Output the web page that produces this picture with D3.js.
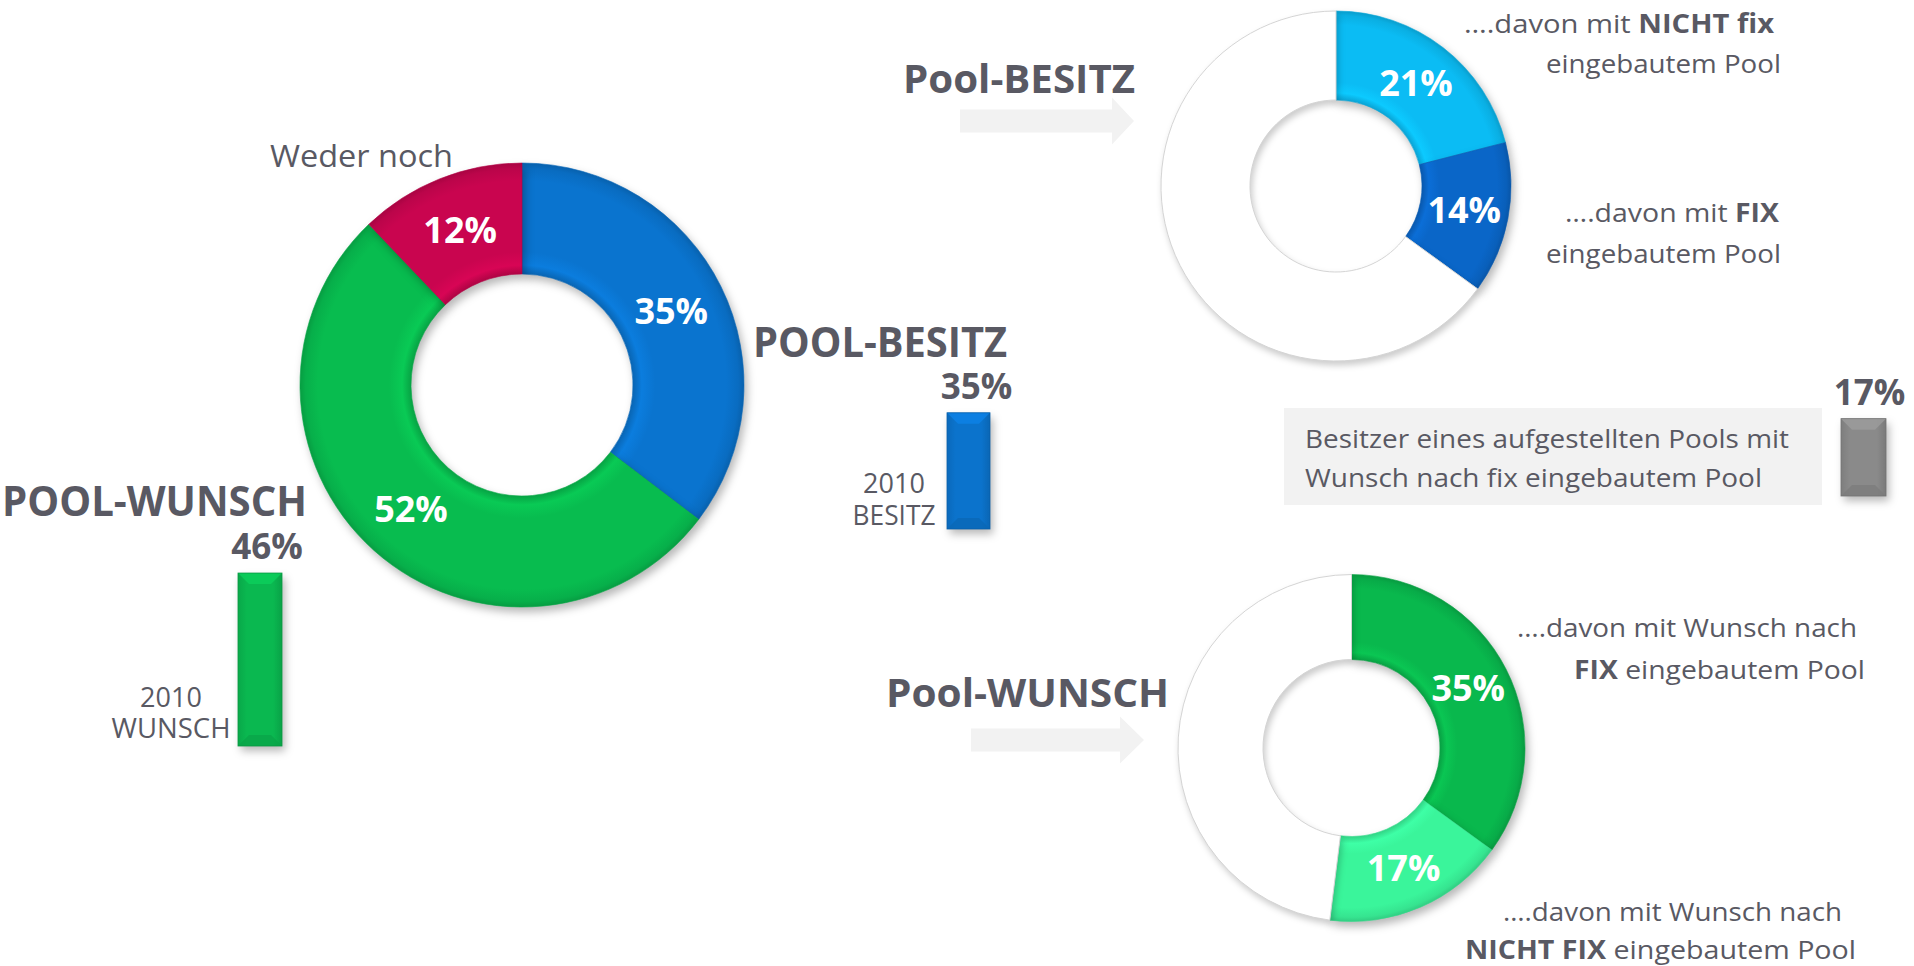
<!DOCTYPE html>
<html><head><meta charset="utf-8">
<script src="https://cdn.jsdelivr.net/npm/d3@7"></script>
<style>html,body{margin:0;padding:0;background:#fff;overflow:hidden}</style>
</head><body><svg id="chart" width="1914" height="966"></svg>
<script>
// ---------------- DATA ----------------
const mainCategories = ["POOL-BESITZ", "POOL-WUNSCH", "Weder noch"];
const mainValues = [35, 52, 12];
const mainLabels = ["35%", "52%", "12%"];

const besitzCategories = ["NICHT fix eingebaut", "FIX eingebaut", "kein Pool"];
const besitzValues = [21, 14, 65];
const besitzLabels = ["21%", "14%", ""];

const wunschCategories = ["Wunsch FIX", "Wunsch NICHT FIX", "kein Wunsch"];
const wunschValues = [35, 17, 48];
const wunschLabels = ["35%", "17%", ""];

const wunsch2010Category = ["2010 WUNSCH"];
const wunsch2010Value = [46];
const besitz2010Category = ["2010 BESITZ"];
const besitz2010Value = [35];
const upgradeCategory = ["Aufgestellt mit Wunsch fix"];
const upgradeValue = [17];

// ---------------- SETUP ----------------
const svg = d3.select("#chart");
const FONT = "'Open Sans', 'Noto Sans', sans-serif";
const TXT = "#595963";
const defs = svg.append("defs");

const sh = defs.append("filter").attr("id", "shadow").attr("color-interpolation-filters", "sRGB")
  .attr("x", "-20%").attr("y", "-20%").attr("width", "150%").attr("height", "150%");
sh.append("feDropShadow").attr("dx", 3).attr("dy", 5).attr("stdDeviation", 4)
  .attr("flood-color", "#000").attr("flood-opacity", 0.28);
const shw = defs.append("filter").attr("id", "shadowW").attr("color-interpolation-filters", "sRGB")
  .attr("x", "-20%").attr("y", "-20%").attr("width", "150%").attr("height", "150%");
shw.append("feDropShadow").attr("dx", 2).attr("dy", 4).attr("stdDeviation", 3)
  .attr("flood-color", "#000").attr("flood-opacity", 0.2);

function radialGrad(id, R, r, base) {
  const c = d3.color(base);
  const g = defs.append("radialGradient").attr("id", id)
    .attr("gradientUnits", "userSpaceOnUse").attr("cx", 0).attr("cy", 0).attr("r", R);
  const k = r / R;
  g.append("stop").attr("offset", k).attr("stop-color", c.darker(0.4));
  g.append("stop").attr("offset", k + 0.04).attr("stop-color", c.brighter(0.2));
  g.append("stop").attr("offset", k + 0.1).attr("stop-color", base);
  g.append("stop").attr("offset", 0.92).attr("stop-color", base);
  g.append("stop").attr("offset", 0.975).attr("stop-color", c.darker(0.2));
  g.append("stop").attr("offset", 1).attr("stop-color", c.darker(0.5));
  return "url(#" + id + ")";
}

function drawDonut(id, values, labels, colors, cx, cy, R, r) {
  const g = svg.append("g").attr("transform", `translate(${cx},${cy})`);
  const pie = d3.pie().sort(null).value(d => d);
  const arc = d3.arc().innerRadius(r).outerRadius(R);
  const arcs = pie(values);
  const isW = c => c === "#ffffff";
  const fills = colors.map((c, i) => isW(c) ? "#ffffff" : radialGrad(id + i, R, r, c));
  g.selectAll("path").data(arcs).join("path")
    .attr("d", arc)
    .attr("fill", (d, i) => fills[i])
    .attr("stroke", (d, i) => isW(colors[i]) ? "#d4d4d4" : d3.color(colors[i]).darker(0.3))
    .attr("stroke-width", (d, i) => isW(colors[i]) ? 1 : 0.6)
    .attr("filter", (d, i) => isW(colors[i]) ? "url(#shadowW)" : "url(#shadow)");
  g.selectAll("text").data(arcs).join("text")
    .attr("transform", d => `translate(${arc.centroid(d)})`)
    .attr("text-anchor", "middle").attr("dy", "0.36em")
    .attr("font-family", FONT).attr("font-weight", 700).attr("font-size", 36)
    .attr("fill", "#fff")
    .text((d, i) => labels[i]);
  return g;
}

function text(x, y, parts, opts) {
  const t = svg.append("text").attr("x", x).attr("y", y)
    .attr("font-family", FONT).attr("font-size", opts.size).attr("fill", TXT)
    .attr("text-anchor", opts.anchor || "start");
  if (opts.width) t.attr("textLength", opts.width).attr("lengthAdjust", "spacingAndGlyphs");
  parts.forEach(p => t.append("tspan").attr("font-weight", p[1] ? 700 : 400).text(p[0]));
  return t;
}

function drawBar(categories, values, color, x0, w, baseY, yMax, plotH, labelOffset) {
  const x = d3.scaleBand().domain(categories).range([x0, x0 + w]).padding(0);
  const y = d3.scaleLinear().domain([0, yMax]).range([baseY, baseY - plotH]);
  const c = d3.color(color);
  const gid = "bg" + categories[0].replace(/\W/g, "");
  const lg = defs.append("linearGradient").attr("id", gid).attr("x1", 0).attr("x2", 1).attr("y1", 0).attr("y2", 0);
  lg.append("stop").attr("offset", 0).attr("stop-color", c.darker(0.25));
  lg.append("stop").attr("offset", 0.2).attr("stop-color", color);
  lg.append("stop").attr("offset", 0.8).attr("stop-color", color);
  lg.append("stop").attr("offset", 1).attr("stop-color", c.darker(0.35));
  const g = svg.append("g");
  categories.forEach((cat, i) => {
    const bx = x(cat), bw = x.bandwidth(), top = y(values[i]), bot = y(0), b = 11;
    g.append("rect").attr("x", bx).attr("y", top).attr("width", bw).attr("height", bot - top)
      .attr("fill", `url(#${gid})`).attr("filter", "url(#shadow)");
    g.append("path").attr("d", `M${bx},${top}L${bx + bw},${top}L${bx + bw - b},${top + b}L${bx + b},${top + b}Z`)
      .attr("fill", c.brighter(0.35)).attr("opacity", 0.8);
    g.append("path").attr("d", `M${bx},${bot}L${bx + bw},${bot}L${bx + bw - b},${bot - b}L${bx + b},${bot - b}Z`)
      .attr("fill", c.darker(0.35)).attr("opacity", 0.7);
    g.append("rect").attr("x", bx).attr("y", top).attr("width", bw).attr("height", bot - top)
      .attr("fill", "none").attr("stroke", c.darker(0.5)).attr("stroke-width", 0.8);
    svg.append("text").attr("x", bx + bw / 2 + labelOffset).attr("y", top - 14)
      .attr("text-anchor", "middle").attr("font-family", FONT).attr("font-weight", 700)
      .attr("font-size", 35).attr("fill", TXT).text(values[i] + "%");
  });
}

function arrow(x0, x1, x2, yc, bodyH, headH) {
  svg.append("path")
    .attr("d", `M${x0},${yc - bodyH / 2}L${x1},${yc - bodyH / 2}L${x1},${yc - headH / 2}L${x2},${yc}` +
      `L${x1},${yc + headH / 2}L${x1},${yc + bodyH / 2}L${x0},${yc + bodyH / 2}Z`)
    .attr("fill", "#f2f2f2");
}

// ---------------- MAIN DONUT ----------------
drawDonut("m", mainValues, mainLabels, ["#0a74cf", "#08bc4f", "#c9054f"], 522, 385, 222, 111);
text(270, 167, [["Weder noch", false]], { size: 31, width: 183 });
text(2, 516, [["POOL-WUNSCH", true]], { size: 41, width: 305 });
text(753, 357, [["POOL-BESITZ", true]], { size: 41, width: 254 });

// 2010 bars
drawBar(wunsch2010Category, wunsch2010Value, "#0ab850", 238, 44, 746, 50, 188, 7);
text(171, 707, [["2010", false]], { size: 27, anchor: "middle" });
text(171, 738, [["WUNSCH", false]], { size: 27, anchor: "middle", width: 119 });
drawBar(besitz2010Category, besitz2010Value, "#0b73cc", 947, 43, 529, 50, 166, 8);
text(894, 493, [["2010", false]], { size: 27, anchor: "middle" });
text(894, 525, [["BESITZ", false]], { size: 27, anchor: "middle", width: 83 });

// ---------------- TOP RIGHT: BESITZ ----------------
arrow(960, 1112, 1134, 121, 23, 47);
drawDonut("b", besitzValues, besitzLabels, ["#0bbcf4", "#0a66c8", "#ffffff"], 1336, 186, 175, 86);
text(903, 93, [["Pool-BESITZ", true]], { size: 40, width: 232 });
text(1774, 33, [["….davon mit ", false], ["NICHT fix", true]], { size: 26, anchor: "end", width: 310 });
text(1781, 73, [["eingebautem Pool", false]], { size: 26, anchor: "end", width: 235 });
text(1779, 222, [["….davon mit ", false], ["FIX", true]], { size: 26, anchor: "end", width: 214 });
text(1781, 263, [["eingebautem Pool", false]], { size: 26, anchor: "end", width: 235 });

// ---------------- MIDDLE RIGHT: upgrade ----------------
svg.append("rect").attr("x", 1284).attr("y", 408).attr("width", 538).attr("height", 97).attr("fill", "#f2f2f2");
text(1305, 448, [["Besitzer eines aufgestellten Pools mit", false]], { size: 26, width: 484 });
text(1305, 487, [["Wunsch nach fix eingebautem Pool", false]], { size: 26, width: 457 });
drawBar(upgradeCategory, upgradeValue, "#8a8a8a", 1841, 45, 496, 20, 91, 6);

// ---------------- BOTTOM RIGHT: WUNSCH ----------------
arrow(971, 1120, 1144, 740, 23, 47);
drawDonut("w", wunschValues, wunschLabels, ["#09b84d", "#3af59b", "#ffffff"], 1351.5, 748, 173.5, 88.5);
text(886, 707, [["Pool-WUNSCH", true]], { size: 40, width: 283 });
text(1857, 637, [["….davon mit Wunsch nach", false]], { size: 26, anchor: "end", width: 340 });
text(1865, 679, [["FIX", true], [" eingebautem Pool", false]], { size: 26, anchor: "end", width: 291 });
text(1842, 921, [["….davon mit Wunsch nach", false]], { size: 26, anchor: "end", width: 339 });
text(1856, 959, [["NICHT FIX", true], [" eingebautem Pool", false]], { size: 26, anchor: "end", width: 391 });
</script>
</body></html>
